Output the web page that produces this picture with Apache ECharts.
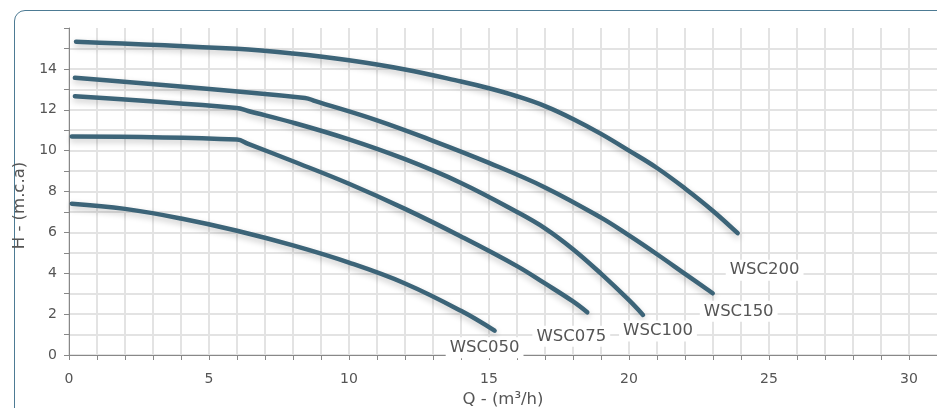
<!DOCTYPE html>
<html>
<head>
<meta charset="utf-8">
<script src="https://cdn.jsdelivr.net/npm/echarts@6/dist/echarts.min.js"></script>
<style>
html,body{margin:0;padding:0;background:#fff;overflow:hidden;}
#card{position:absolute;left:14px;top:10px;width:1000px;height:500px;border:1.5px solid #4d7b94;border-radius:11px;box-sizing:border-box;}
#chart{position:absolute;left:0;top:0;width:937px;height:408px;}
</style>
</head>
<body>
<div id="card"></div>
<div id="chart"></div>
<script>
// Series names
const seriesNames = ['WSC050', 'WSC075', 'WSC100', 'WSC150', 'WSC200'];
// Flow Q (m3/h) and head H (m.c.a) values per series
const wsc050Q = [0.1, 2, 4, 6, 8, 10, 12, 14, 15.2];
const wsc050H = [7.4, 7.15, 6.68, 6.08, 5.36, 4.52, 3.5, 2.16, 1.19];
const wsc075Q = [0.1, 6, 6.4, 8, 10, 12, 14, 16, 17, 18, 18.51];
const wsc075H = [10.69, 10.54, 10.33, 9.48, 8.38, 7.15, 5.8, 4.35, 3.5, 2.62, 2.09];
const wsc100Q = [0.21, 5.99, 6.4, 8, 10, 12, 14, 16, 17, 18, 19, 20, 20.5];
const wsc100H = [12.66, 12.09, 11.94, 11.37, 10.55, 9.58, 8.42, 7.0, 6.2, 5.18, 3.98, 2.68, 1.96];
const wsc150Q = [0.21, 8.43, 8.8, 11, 13, 15, 17, 19, 20, 21, 22, 22.99];
const wsc150H = [13.56, 12.58, 12.42, 11.48, 10.48, 9.4, 8.2, 6.72, 5.85, 4.93, 3.97, 3.02];
const wsc200Q = [0.25, 6, 8, 10, 12, 14, 15, 16, 17, 18, 19, 20, 21, 22, 23, 23.88];
const wsc200H = [15.33, 14.98, 14.75, 14.42, 13.97, 13.38, 13.05, 12.66, 12.18, 11.55, 10.82, 10.0, 9.15, 8.15, 7.05, 5.96];
// Tick labels
const xTickLabels = [0, 5, 10, 15, 20, 25, 30];
const yTickLabels = [0, 2, 4, 6, 8, 10, 12, 14];

const qArrays = [wsc050Q, wsc075Q, wsc100Q, wsc150Q, wsc200Q];
const hArrays = [wsc050H, wsc075H, wsc100H, wsc150H, wsc200H];
const labelOffsets = [[-10, 17], [-16, 24], [15, 16], [26, 18], [27, 37]];

const lineColor = '#3c6478';
const font = 'DejaVu Sans';

const series = seriesNames.map((name, i) => {
  const q = qArrays[i], h = hArrays[i];
  const data = q.map((x, k) => {
    if (k === q.length - 1) {
      return {
        value: [x, h[k]],
        label: {
          show: true, formatter: name, position: 'inside', offset: labelOffsets[i],
          color: '#555', fontFamily: font, fontSize: 16.5,
          backgroundColor: '#fff', padding: [2, 4]
        }
      };
    }
    return [x, h[k]];
  });
  return {
    type: 'line', name, data, smooth: 0.4,
    symbol: 'circle', symbolSize: 0.01, showSymbol: true,
    itemStyle: { color: 'rgba(0,0,0,0)' },
    label: { show: false },
    lineStyle: {
      color: lineColor, width: 4.5, cap: 'round', join: 'round',
      shadowColor: 'rgba(0,0,0,0.22)', shadowBlur: 6, shadowOffsetY: 3
    },
    z: 3
  };
});

const chart = echarts.init(document.getElementById('chart'), null, { renderer: 'canvas' });
chart.setOption({
  animation: false,
  grid: { left: 69, right: 0, top: 28, bottom: 53, containLabel: false, outerBoundsMode: 'none' },
  xAxis: {
    type: 'value', min: 0, max: 31, interval: 1,
    name: 'Q - (m³/h)', nameLocation: 'middle', nameGap: 33,
    nameTextStyle: { color: '#555', fontFamily: font, fontSize: 16.5 },
    axisLine: { show: true, lineStyle: { color: '#888', width: 1 } },
    axisTick: { show: true, length: 5, lineStyle: { color: '#888' } },
    axisLabel: {
      color: '#555', fontFamily: font, fontSize: 14, margin: 17,
      showMaxLabel: false,
      formatter: v => xTickLabels.indexOf(v) >= 0 ? String(v) : ''
    },
    splitLine: { show: true, showMaxLine: false, lineStyle: { color: '#e3e3e3', width: 2 } }
  },
  yAxis: {
    type: 'value', min: 0, max: 16, interval: 1,
    name: 'H - (m.c.a)', nameLocation: 'middle', nameGap: 38,
    nameTextStyle: { color: '#555', fontFamily: font, fontSize: 16.5, padding: [0, 28, 0, 0] },
    axisLine: { show: true, lineStyle: { color: '#888', width: 1 } },
    axisTick: { show: true, length: 5, lineStyle: { color: '#888' } },
    axisLabel: {
      color: '#555', fontFamily: font, fontSize: 14, margin: 12,
      formatter: v => yTickLabels.indexOf(v) >= 0 ? String(v) : ''
    },
    splitLine: { show: true, showMaxLine: false, lineStyle: { color: '#e3e3e3', width: 2 } }
  },
  series
});
</script>
</body>
</html>
